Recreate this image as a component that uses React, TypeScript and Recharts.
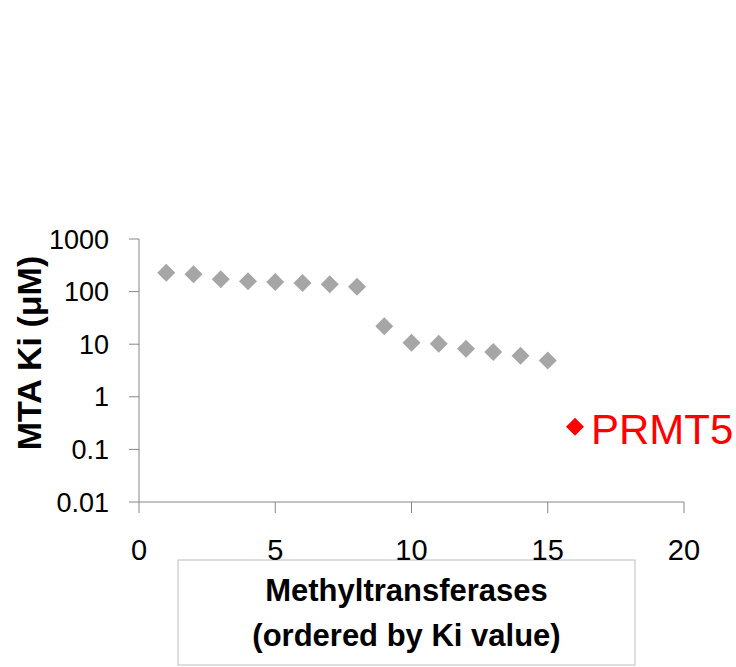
import React from 'react';
import { ScatterChart, Scatter, XAxis, YAxis, LabelList } from 'recharts';

const enzymeRank = [1, 2, 3, 4, 5, 6, 7, 8, 9, 10, 11, 12, 13, 14, 15];
const kiValues = [229, 213, 171, 158, 152, 146, 138, 124, 21.9, 10.7, 10.2, 8.2, 7.1, 6.0, 4.9];
const prmt5Rank = [16];
const prmt5Ki = [0.27];
const prmt5Name = ['PRMT5'];
const xTicks = [0, 5, 10, 15, 20];
const yTicks = [0.01, 0.1, 1, 10, 100, 1000];

const others = enzymeRank.map((x, i) => ({ x, ki: kiValues[i] }));
const prmt5 = prmt5Rank.map((x, i) => ({ x, ki: prmt5Ki[i], name: prmt5Name[i] }));

const axisColor = '#868686';

const Diamond = (props: any) => {
  const { cx, cy, fill } = props;
  const r = 9;
  return (
    <polygon
      points={`${cx},${cy - r} ${cx + r},${cy} ${cx},${cy + r} ${cx - r},${cy}`}
      fill={fill}
    />
  );
};

const XTitle = () => {
  const left = 178;
  const top = 560;
  const w = 457;
  const cx = left + w / 2;
  return (
    <g>
      <rect x={left} y={top} width={w} height={105} fill="#fff" stroke="#bdbdbd" strokeWidth={1} />
      <text x={cx} y={601} textAnchor="middle" fontFamily="Liberation Sans, Arial, sans-serif" fontWeight="bold" fontSize={31} fill="#000">
        Methyltransferases
      </text>
      <text x={cx} y={646} textAnchor="middle" fontFamily="Liberation Sans, Arial, sans-serif" fontWeight="bold" fontSize={31} fill="#000">
        (ordered by Ki value)
      </text>
    </g>
  );
};

const YTitle = () => (
  <text
    x={41}
    y={353}
    transform="rotate(-90, 41, 353)"
    textAnchor="middle"
    fontFamily="Liberation Sans, Arial, sans-serif"
    fontWeight="bold"
    fontSize={34}
    fill="#000"
  >
    MTA Ki (μM)
  </text>
);

const PrmtLabel = (props: any) => {
  const { x, y, width, height, value } = props;
  const cx = x + width / 2;
  const cy = y + height / 2;
  return (
    <text x={cx + 16} y={cy + 17} fill="#ff0000" fontFamily="Liberation Sans, Arial, sans-serif" fontSize={42}>
      {value}
    </text>
  );
};

export default function App() {
  return (
    <div style={{ position: 'absolute', left: 0, top: 0, background: '#fff' }}>
      <ScatterChart width={736} height={667} margin={{ top: 239, right: 52, bottom: 105, left: 39 }}>
        <XAxis
          type="number"
          dataKey="x"
          domain={[0, 20]}
          ticks={xTicks}
          interval={0}
          height={60}
          tickSize={11}
          tickMargin={26}
          axisLine={{ stroke: axisColor }}
          tickLine={{ stroke: axisColor }}
          tick={{ fill: '#000', fontSize: 29, fontFamily: 'Liberation Sans Narrow, Liberation Sans, sans-serif' }}
          label={<XTitle />}
        />
        <YAxis
          type="number"
          dataKey="ki"
          scale="log"
          domain={[0.01, 1000]}
          allowDataOverflow
          ticks={yTicks}
          interval={0}
          width={100}
          tickSize={10}
          tickMargin={20}
          axisLine={{ stroke: axisColor }}
          tickLine={{ stroke: axisColor }}
          tick={{ fill: '#000', fontSize: 27, fontFamily: 'Liberation Sans, Arial, sans-serif' }}
          tickFormatter={(v: number) => String(v)}
          label={<YTitle />}
        />
        <Scatter data={others} fill="#a6a6a6" shape={<Diamond />} isAnimationActive={false} />
        <Scatter data={prmt5} fill="#ff0000" shape={<Diamond />} isAnimationActive={false}>
          <LabelList dataKey="name" content={<PrmtLabel />} />
        </Scatter>
      </ScatterChart>
    </div>
  );
}
